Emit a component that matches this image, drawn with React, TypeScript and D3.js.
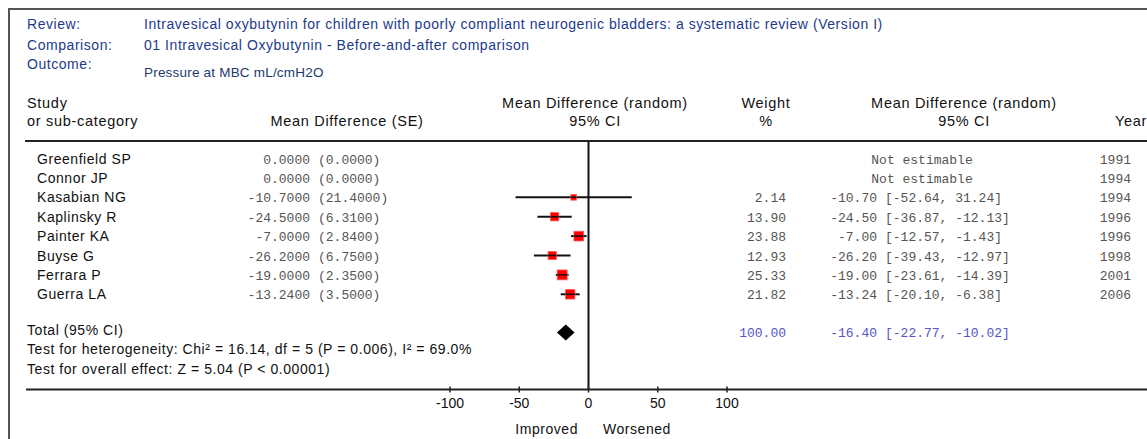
import React from "react";
import * as d3 from "d3";

const studies = ["Greenfield SP", "Connor JP", "Kasabian NG", "Kaplinsky  R", "Painter KA", "Buyse G", "Ferrara P", "Guerra LA"];
const meanDiff = [0, 0, -10.7, -24.5, -7.0, -26.2, -19.0, -13.24];
const stdErr = [0, 0, 21.4, 6.31, 2.84, 6.75, 2.35, 3.5];
const weights: (number | null)[] = [null, null, 2.14, 13.9, 23.88, 12.93, 25.33, 21.82];
const ciLower: (number | null)[] = [null, null, -52.64, -36.87, -12.57, -39.43, -23.61, -20.1];
const ciUpper: (number | null)[] = [null, null, 31.24, -12.13, -1.43, -12.97, -14.39, -6.38];
const years = [1991, 1994, 1994, 1996, 1996, 1998, 2001, 2006];
const totalMD = -16.4;
const totalLower = -22.77;
const totalUpper = -10.02;
const totalWeight = 100;
const axisTicks = [-100, -50, 0, 50, 100];

const SANS = "'Liberation Sans', Arial, sans-serif";
const MONO = "'Liberation Mono', 'Courier New', monospace";
const NAVY = "#1d3a8c";

export default function App() {
  const W = 1147, H = 439;
  const x = d3.scaleLinear().domain([-100, 100]).range([450, 727]);
  const rowY = (i: number) => 158.5 + 19.4 * i;
  const size = d3.scaleSqrt().domain([0, 26]).range([0, 6]);
  const axisY = 389.5;
  const headerLineY = 141;
  const fs = 14;
  const ls = 0.55;

  const txt = (props: any, s: string) => (
    <text fontFamily={SANS} fontSize={fs} letterSpacing={ls} fill="#111" {...props}>{s}</text>
  );
  const hdr = (props: any, s: string) => (
    <text fontFamily={SANS} fontSize={14.5} letterSpacing={0.7} fill="#111" {...props}>{s}</text>
  );

  return (
    <svg width={W} height={H} style={{ position: "absolute", left: 0, top: 0, background: "#fff" }}>
      {/* frame */}
      <line x1={8} x2={W} y1={9} y2={9} stroke="#555" strokeWidth={2} />
      <line x1={9} x2={9} y1={8} y2={H} stroke="#555" strokeWidth={2} />

      {/* header info */}
      {txt({ x: 27, y: 29, fill: NAVY }, "Review:")}
      {txt({ x: 144, y: 29, fill: NAVY }, "Intravesical oxybutynin for children with poorly  compliant neurogenic bladders: a systematic review (Version I)")}
      {txt({ x: 27, y: 50, fill: NAVY }, "Comparison:")}
      {txt({ x: 144, y: 50, fill: NAVY }, "01 Intravesical Oxybutynin - Before-and-after comparison")}
      {txt({ x: 27, y: 69, fill: NAVY }, "Outcome:")}
      <text x={144} y={77} fontFamily={SANS} fontSize={13.5} letterSpacing={0.2} fill="#1b3a6e">Pressure at MBC mL/cmH2O</text>

      {/* column headers */}
      {hdr({ x: 27, y: 108 }, "Study")}
      {hdr({ x: 27, y: 126 }, "or sub-category")}
      {hdr({ x: 347, y: 126, textAnchor: "middle" }, "Mean Difference (SE)")}
      {hdr({ x: 595, y: 108, textAnchor: "middle" }, "Mean Difference (random)")}
      {hdr({ x: 595, y: 126, textAnchor: "middle" }, "95% CI")}
      {hdr({ x: 766, y: 108, textAnchor: "middle" }, "Weight")}
      {hdr({ x: 766, y: 126, textAnchor: "middle" }, "%")}
      {hdr({ x: 964, y: 108, textAnchor: "middle" }, "Mean Difference (random)")}
      {hdr({ x: 964, y: 126, textAnchor: "middle" }, "95% CI")}
      {hdr({ x: 1115, y: 126 }, "Year")}
      <line x1={25} x2={W} y1={headerLineY} y2={headerLineY} stroke="#222" strokeWidth={2} />

      {/* zero line */}
      <line x1={x(0)} x2={x(0)} y1={headerLineY} y2={axisY} stroke="#111" strokeWidth={2} />

      {/* study rows */}
      {studies.map((s, i) => {
        const y = rowY(i);
        const w = weights[i];
        const lo = ciLower[i];
        const hi = ciUpper[i];
        return (
          <g key={s}>
            {txt({ x: 37, y: y + 5 }, s)}
            <text x={310} y={y + 5} fontFamily={MONO} fontSize={13} fill="#555" textAnchor="end">{meanDiff[i].toFixed(4)}</text>
            <text x={318} y={y + 5} fontFamily={MONO} fontSize={13} fill="#555">{"(" + stdErr[i].toFixed(4) + ")"}</text>
            {w !== null && lo !== null && hi !== null ? (
              <>
                <line x1={x(lo)} x2={x(hi)} y1={y} y2={y} stroke="#111" strokeWidth={2} />
                <rect
                  x={x(meanDiff[i]) - (4 + size(w)) / 2}
                  y={y - (4 + size(w)) / 2}
                  width={4 + size(w)}
                  height={4 + size(w)}
                  fill="#ff0000"
                  stroke="#ff6060"
                  strokeWidth={0.8}
                />
                <line x1={Math.max(x(lo), x(meanDiff[i]) - (4 + size(w)) / 2)} x2={Math.min(x(hi), x(meanDiff[i]) + (4 + size(w)) / 2)} y1={y} y2={y} stroke="#111" strokeWidth={1.5} />
                <text x={786} y={y + 5} fontFamily={MONO} fontSize={13} fill="#555" textAnchor="end">{w.toFixed(2)}</text>
                <text x={877} y={y + 5} fontFamily={MONO} fontSize={13} fill="#555" textAnchor="end">{meanDiff[i].toFixed(2)}</text>
                <text x={885} y={y + 5} fontFamily={MONO} fontSize={13} fill="#555">{"[" + lo.toFixed(2) + ", " + hi.toFixed(2) + "]"}</text>
              </>
            ) : (
              <text x={922} y={y + 5} fontFamily={MONO} fontSize={13} fill="#555" textAnchor="middle">Not estimable</text>
            )}
            <text x={1131} y={y + 5} fontFamily={MONO} fontSize={13} fill="#555" textAnchor="end">{String(years[i])}</text>
          </g>
        );
      })}

      {/* total */}
      {txt({ x: 27, y: 335 }, "Total (95% CI)")}
      <path
        d={`M${x(totalLower)},332.5 L${x(totalMD)},324.5 L${x(totalUpper)},332.5 L${x(totalMD)},340.5 Z`}
        fill="#000"
      />
      <text x={786} y={337} fontFamily={MONO} fontSize={13} fill="#5555c4" textAnchor="end">{totalWeight.toFixed(2)}</text>
      <text x={877} y={337} fontFamily={MONO} fontSize={13} fill="#5555c4" textAnchor="end">{totalMD.toFixed(2)}</text>
      <text x={885} y={337} fontFamily={MONO} fontSize={13} fill="#5555c4">{"[" + totalLower.toFixed(2) + ", " + totalUpper.toFixed(2) + "]"}</text>
      {txt({ x: 27, y: 354 }, "Test for heterogeneity: Chi² = 16.14, df = 5 (P = 0.006), I² = 69.0%")}
      {txt({ x: 27, y: 374 }, "Test for overall effect: Z = 5.04 (P < 0.00001)")}

      {/* axis */}
      <line x1={26} x2={W} y1={axisY} y2={axisY} stroke="#222" strokeWidth={2} />
      {axisTicks.map((t) => (
        <g key={t}>
          <line x1={x(t)} x2={x(t)} y1={axisY - 3} y2={axisY + 3} stroke="#222" strokeWidth={1.5} />
          {txt({ x: x(t), y: 408, textAnchor: "middle", letterSpacing: 0 }, String(t))}
        </g>
      ))}
      {txt({ x: 578, y: 434, textAnchor: "end" }, "Improved")}
      {txt({ x: 603, y: 434 }, "Worsened")}
    </svg>
  );
}
